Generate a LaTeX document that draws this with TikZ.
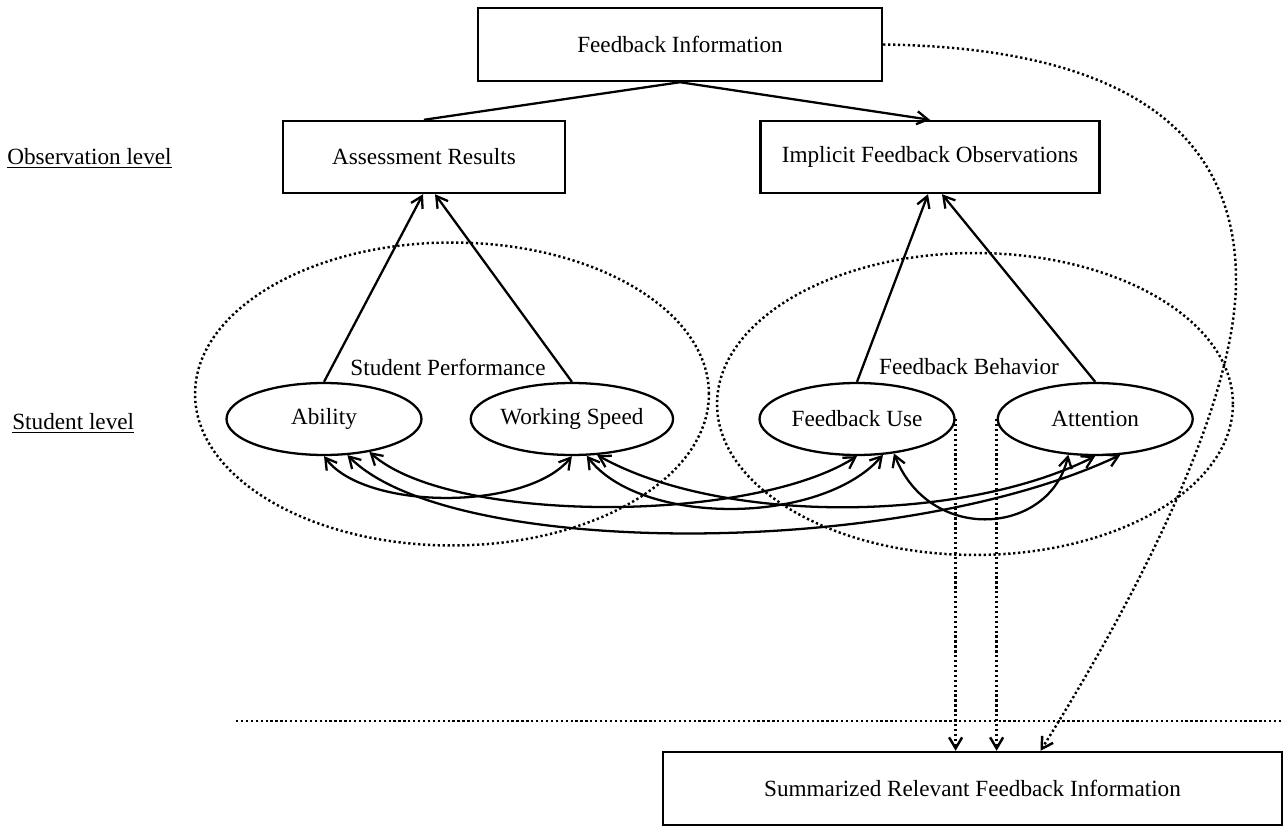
\documentclass[tikz,border=0pt]{standalone}
\usepackage{fontspec}
\setmainfont{Liberation Serif}
\usetikzlibrary{arrows.meta, positioning, calc, shapes.geometric}
\tikzset{
  boxnode/.style    = {draw, line width=1.4pt, minimum height=1.46cm,
                       inner sep=0pt, font=\fontsize{13.2}{16}\selectfont},
  latentnode/.style = {draw, ellipse, line width=1.3pt, minimum width=3.9cm,
                       minimum height=1.44cm, inner sep=0pt,
                       font=\fontsize{13.2}{16}\selectfont},
  groupnode/.style  = {draw, ellipse, dotrule, inner sep=0pt},
  plaintext/.style  = {inner sep=0pt, font=\fontsize{13.2}{16}\selectfont},
  dotrule/.style    = {line width=1.4pt, dash pattern=on 1.3pt off 1.5pt},
  flow/.style       = {-{Straight Barb[length=2.2mm, width=2.6mm]}, line width=1.3pt},
  corr/.style       = {{Straight Barb[length=2.2mm, width=2.6mm]}-{Straight Barb[length=2.2mm, width=2.6mm]},
                       line width=1.3pt},
  dotflow/.style    = {dotrule, -{Straight Barb[length=2.2mm, width=2.6mm]}},
}

\begin{document}
\begin{tikzpicture}[x=0.02cm, y=-0.02cm]
    \useasboundingbox (0,0) rectangle (1286,828);

    % observation level
    \node[boxnode, minimum width=8.08cm] (fi) at (680,44.5) {Feedback Information};
    \node[boxnode, minimum width=5.64cm, minimum height=1.44cm] (ar) at (424,157) {Assessment Results};
    \node[boxnode, minimum width=6.78cm, minimum height=1.44cm] (impl) at (930,157) {Implicit Feedback Observations};

    % student level
    \node[groupnode, minimum width=10.28cm, minimum height=6.06cm] (perf) at (452,394) {};
    \node[groupnode, minimum width=10.32cm, minimum height=6.04cm] (behav) at (975,404) {};
    \node[plaintext] (perflabel) at (448,367) {Student Performance};
    \node[plaintext] (behavlabel) at (969,367) {Feedback Behavior};

    \node[latentnode] (ability) at (324,419) {Ability};
    \node[latentnode, right=0.94cm of ability] (ws) {Working Speed};
    \node[latentnode] (fu) at (857,419) {Feedback Use};
    \node[latentnode, right=0.82cm of fu] (att) {Attention};

    \node[plaintext, anchor=west] (obslevel) at (7,158) {\underline{Observation level}};
    \node[plaintext, anchor=west] (stulevel) at (12,423) {\underline{Student level}};

    \node[boxnode, minimum width=12.38cm] (sum) at (972.5,788.5) {Summarized Relevant Feedback Information};

    \coordinate (sepL) at (236,721);
    \coordinate (sepR) at (1282,721);
    \draw[dotrule] (sepL) -- (sepR);

    % feedback information split
    \draw[line width=1.3pt] (fi.south) -- (ar.north);
    \draw[flow] (fi.south) -- (impl.north);

    % indicators
    \draw[flow] (ability.north) -- ($(ar.south)+(-1,0)$);
    \draw[flow] (ws.north) -- ($(ar.south)+(11,0)$);
    \draw[flow] (fu.north) -- ($(impl.south)+(-2,0)$);
    \draw[flow] (att.north) -- ($(impl.south)+(12,0)$);

    % correlations
    \draw[corr] (ability.south) .. controls (365,511) and (527,511) .. (ws.south);
    \draw[corr] (ability.-36) .. controls (450,524) and (750,524) .. (fu.south);
    \draw[corr] (ability.-57) .. controls (450,559) and (900,559) .. (att.-55);
    \draw[corr] (ws.-68) .. controls (640,526) and (820,526) .. (fu.-54);
    \draw[corr] (ws.-55) .. controls (720,524) and (960,524) .. (att.south);
    \draw[corr] (fu.-43) .. controls (930,545) and (1050,535) .. (att.-127);

    % summary
    \draw[dotflow] (fu.east) -- (fu.east |- sum.north);
    \draw[dotflow] (att.west) -- (att.west |- sum.north);
    \draw[dotflow] (fi.east) .. controls (1150,48) and (1236,150) .. (1236,280)
      .. controls (1236,420) and (1110,640) .. ($(sum.north)+(68,0)$);
\end{tikzpicture}
\end{document}
